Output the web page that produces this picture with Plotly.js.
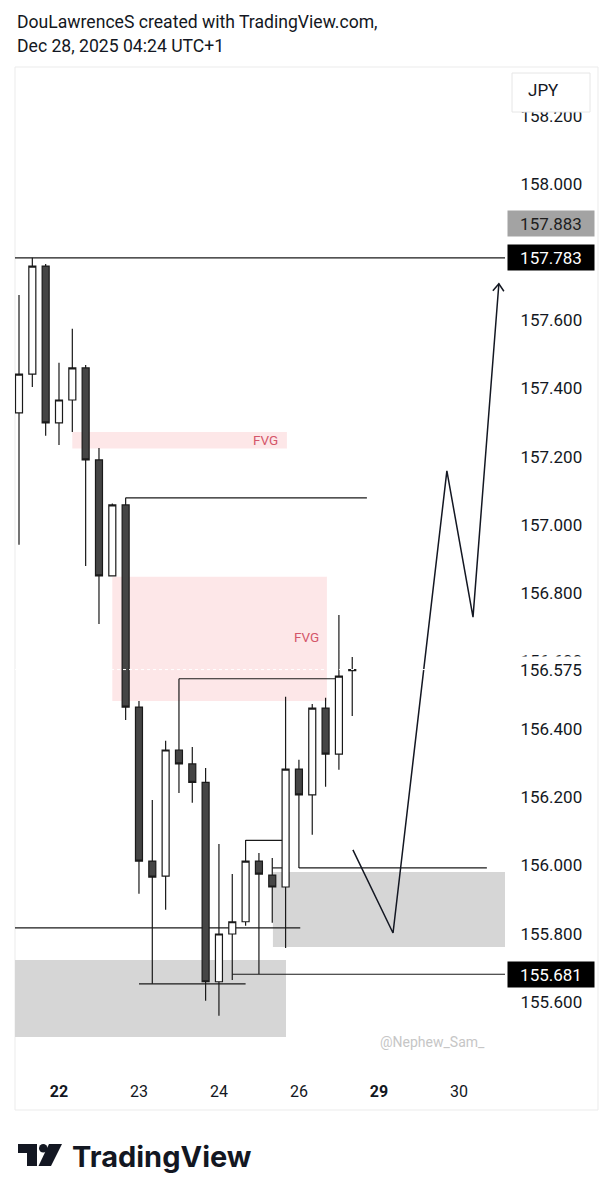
<!DOCTYPE html>
<html><head><meta charset="utf-8">
<script src="https://cdn.plot.ly/plotly-3.0.1.min.js"></script>
<style>html,body{margin:0;padding:0;background:#fff;}#chart{width:613px;height:1200px;}</style>
</head><body><div id="chart"></div>
<script>
// ---- data (4H bars, USDJPY-style) ----
const barIndex = [0,1,2,3,4,5,6,7,8,9,10,11,12,13,14,15,16,17,18,19,20,21,22,23,24,25];
const openP  = [157.328,157.442,157.759,157.299,157.366,157.460,157.190,156.850,157.058,156.465,156.013,155.969,156.339,156.298,156.244,155.659,155.799,155.835,156.013,155.972,155.937,156.283,156.207,156.462,156.327,156.572];
const highP  = [157.674,157.783,157.765,157.475,157.575,157.469,157.225,157.062,157.079,156.483,156.192,156.366,156.548,156.348,156.286,156.063,155.975,156.075,156.037,156.022,156.495,156.310,156.474,156.492,156.735,156.612];
const lowP   = [156.941,157.404,157.261,157.234,157.272,156.879,156.709,156.848,156.427,155.917,155.653,155.870,156.213,156.184,155.603,155.559,155.664,155.823,155.682,155.832,155.758,155.993,156.090,156.231,156.281,156.439];
const closeP = [157.442,157.759,157.299,157.366,157.460,157.190,156.850,157.058,156.465,156.013,155.966,156.339,156.298,156.244,155.659,155.799,155.835,156.013,155.975,155.937,156.283,156.207,156.462,156.327,156.556,156.575];

const dayTickIdx  = [3,9,15,21,27,33];
const dayTickText = ['<b>22</b>','23','24','26','<b>29</b>','30'];
const priceTicks  = [158.2,158.0,157.6,157.4,157.2,157.0,156.8,156.6,156.4,156.2,156.0,155.8,155.6];

// drawn horizontal rays / segments
const segX0 = [-1, 8, 12, 17, 19, 21, -1, 9, 16];
const segX1 = [40, 26.1, 24, 20, 20, 35.1, 21.1, 17, 40];
const segY  = [157.783, 157.079, 156.548, 156.074, 155.993, 155.993, 155.817, 155.653, 155.681];

// FVG zones
const fvgX0 = [4, 7], fvgX1 = [20.1, 23.1];
const fvgLo = [157.224, 156.483], fvgHi = [157.272, 156.847];
const fvgLabelX = [18.5, 21.6], fvgLabelY = [157.248, 156.671];

// grey zones
const zoneX0 = [-1, 19.05], zoneX1 = [20.03, 36.5];
const zoneLo = [155.497, 155.761], zoneHi = [155.723, 155.981];

// projected path
const projX = [25.05, 28.06, 32.1, 34.06, 36.0];
const projY = [156.046, 155.802, 157.158, 156.729, 157.707];

// price labels
const lastPrice = 156.575;
const boxPrices = [157.883, 157.783, 155.681];
const boxBg     = ['#a3a3a3', '#000000', '#000000'];
const boxFg     = ['#1e1e1e', '#ffffff', '#ffffff'];

// ---- layout helpers (pixel -> paper, decoration only) ----
const L = 15, R = 505, T = 66, B = 1070;
const px = x => (x - L) / (R - L);
const py = y => (B - y) / (B - T);

const shapes = [];
// frame
shapes.push({type:'rect', xref:'paper', yref:'paper', x0:px(15), x1:px(598), y0:py(1110), y1:py(67), line:{color:'#ebebeb', width:1}, layer:'below'});
for (let i = 0; i < fvgX0.length; i++) {
  shapes.push({type:'rect', xref:'x', yref:'y', x0:fvgX0[i], x1:fvgX1[i], y0:fvgLo[i], y1:fvgHi[i], fillcolor:'rgba(242,54,69,0.12)', line:{width:0}, layer:'below'});
}
for (let i = 0; i < zoneX0.length; i++) {
  shapes.push({type:'rect', xref:'x', yref:'y', x0:zoneX0[i], x1:zoneX1[i], y0:zoneLo[i], y1:zoneHi[i], fillcolor:'#d6d6d6', line:{width:0}, layer:'below'});
}
for (let i = 0; i < segY.length; i++) {
  shapes.push({type:'line', xref:'x', yref:'y', x0:segX0[i], x1:segX1[i], y0:segY[i], y1:segY[i], line:{color:'#1a1a1a', width:1.2}, layer:'below'});
}
// last price dotted line
shapes.push({type:'line', xref:'paper', yref:'y', x0:0, x1:1, y0:lastPrice, y1:lastPrice, line:{color:'#ffffff', width:1, dash:'dot'}, layer:'above'});
// arrow head at end of projection
shapes.push({type:'path', xref:'x', yref:'y', xsizemode:'pixel', ysizemode:'pixel',
  xanchor:projX[projX.length-1], yanchor:projY[projY.length-1],
  path:'M -6 -7 L 0 0 L 5 -7.5', line:{color:'#131722', width:1.5}, layer:'above'});
// JPY box
shapes.push({type:'rect', xref:'paper', yref:'paper', x0:px(512), x1:px(590), y0:py(112), y1:py(73), fillcolor:'#ffffff', line:{color:'#e6e6e6', width:1}, layer:'above'});
// TradingView logo mark
shapes.push({type:'rect', xref:'paper', yref:'paper', x0:px(18), x1:px(37), y0:py(1153), y1:py(1144), fillcolor:'#131722', line:{width:0}});
shapes.push({type:'rect', xref:'paper', yref:'paper', x0:px(27), x1:px(37), y0:py(1166), y1:py(1144), fillcolor:'#131722', line:{width:0}});
shapes.push({type:'circle', xref:'paper', yref:'paper', x0:px(39), x1:px(47.5), y0:py(1152.5), y1:py(1144), fillcolor:'#131722', line:{width:0}});
shapes.push({type:'path', xref:'paper', yref:'paper',
  path:`M ${px(49)} ${py(1144)} L ${px(62)} ${py(1144)} L ${px(51)} ${py(1166)} L ${px(38.5)} ${py(1166)} Z`,
  fillcolor:'#131722', line:{width:0}});

const annotations = [];
for (let i = 0; i < fvgLabelX.length; i++) {
  annotations.push({xref:'x', yref:'y', x:fvgLabelX[i], y:fvgLabelY[i], text:'FVG', showarrow:false, font:{size:13.5, color:'#d4566a'}});
}
for (let i = 0; i < boxPrices.length; i++) {
  annotations.push({xref:'paper', yref:'y', x:px(507), xanchor:'left', y:boxPrices[i], yanchor:'middle', text:boxPrices[i].toFixed(3), showarrow:false,
    bgcolor:boxBg[i], width:80, height:19, borderpad:3, align:'center', font:{size:17, color:boxFg[i]}});
}
annotations.push({xref:'paper', yref:'y', x:px(507), xanchor:'left', y:lastPrice, yanchor:'middle', text:lastPrice.toFixed(3), showarrow:false,
  bgcolor:'#ffffff', width:80, height:19, borderpad:3, align:'center', font:{size:17, color:'#131722'}});
annotations.push({xref:'paper', yref:'paper', x:px(526), xanchor:'left', y:py(90), yanchor:'middle', text:'JPY', showarrow:false, font:{size:17, color:'#131722'}});
annotations.push({xref:'paper', yref:'paper', x:px(15), xanchor:'left', y:py(22), yanchor:'middle', text:'DouLawrenceS created with TradingView.com,', showarrow:false, font:{size:17.6, color:'#131722'}});
annotations.push({xref:'paper', yref:'paper', x:px(15), xanchor:'left', y:py(46), yanchor:'middle', text:'Dec 28, 2025 04:24 UTC+1', showarrow:false, font:{size:17.6, color:'#131722'}});
annotations.push({xref:'paper', yref:'paper', x:px(432), xanchor:'center', y:py(1042), yanchor:'middle', text:'@Nephew_Sam_', showarrow:false, font:{size:14, color:'#c6c6c6'}});
annotations.push({xref:'paper', yref:'paper', x:px(70), xanchor:'left', y:py(1156), yanchor:'middle', text:'<b>TradingView</b>', showarrow:false, font:{size:29, color:'#131722', family:'Inter, Roboto, sans-serif'}});

const traces = [
  {type:'candlestick', x:barIndex, open:openP, high:highP, low:lowP, close:closeP,
   increasing:{line:{color:'#1a1a1a', width:1.2}, fillcolor:'#ffffff'},
   decreasing:{line:{color:'#1a1a1a', width:1.2}, fillcolor:'#454545'},
   whiskerwidth:0, hoverinfo:'skip'},
  {type:'scatter', mode:'lines', x:projX, y:projY, line:{color:'#131722', width:1.5}, hoverinfo:'skip', cliponaxis:false}
];

const layout = {
  width:613, height:1200,
  margin:{l:L, r:613-R, t:T, b:1200-B},
  paper_bgcolor:'#ffffff', plot_bgcolor:'#ffffff',
  showlegend:false,
  font:{family:'Roboto, sans-serif', color:'#131722', size:16},
  boxgap:0.25,
  xaxis:{range:[-0.3,36.46], tickvals:dayTickIdx, ticktext:dayTickText, showgrid:false, zeroline:false, showline:false,
    ticks:'outside', ticklen:7, tickcolor:'rgba(0,0,0,0)', tickfont:{size:16, color:'#131722'}, rangeslider:{visible:false}, fixedrange:true},
  yaxis:{side:'right', range:[155.400,158.346], tickvals:priceTicks, tickformat:'.3f', showgrid:false, zeroline:false, showline:false,
    ticks:'outside', ticklen:11, tickcolor:'rgba(0,0,0,0)', tickfont:{size:17, color:'#131722'}, fixedrange:true},
  shapes:shapes,
  annotations:annotations
};

Plotly.newPlot('chart', traces, layout, {displayModeBar:false, staticPlot:true});
</script>
</body></html>
